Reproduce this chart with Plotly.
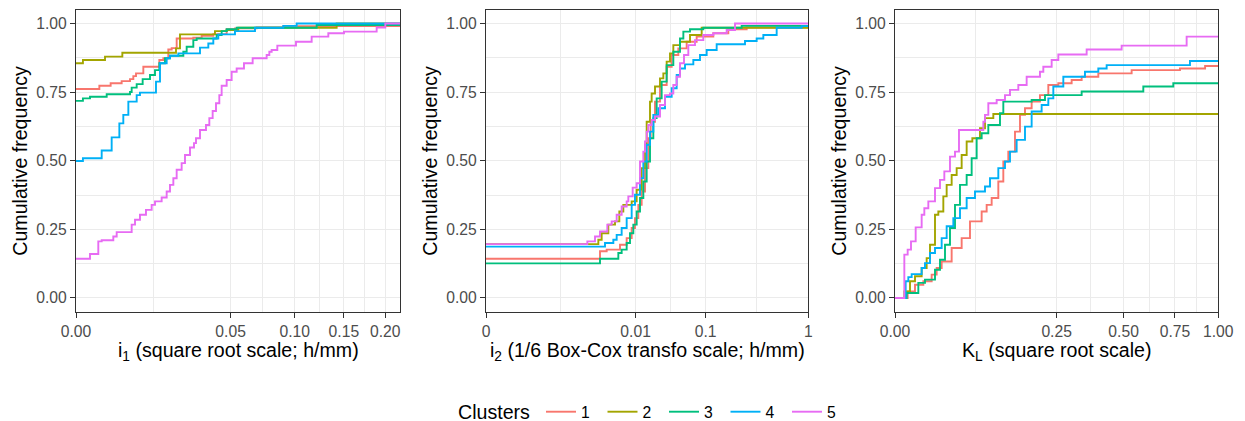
import numpy as np
import plotly.graph_objects as go

# ---------------- data ----------------
clusters = ["1", "2", "3", "4", "5"]
colors = ["#F8766D", "#A3A500", "#00BF7D", "#00B0F6", "#E76BF3"]

# Panel 1: i1 (h/mm), ECDF step points (x, cumulative frequency)
p1_x_1 = [0, .00114, .00251, .00436, .0061, .00687, .00753, .00948, .01452, .01595, .01782, .01914, .02119, .02878, .03302, .03943, .04746, .05285, .06824, .08987]
p1_y_1 = [.761, .773, .782, .79, .797, .808, .818, .842, .867, .873, .905, .91, .945, .948, .955, .961, .979, .982, .985, .99]
p1_x_2 = [0, .0001, .00176, .00449, .02091, .02261, .04039, .04746, .05509, .14206]
p1_y_2 = [.855, .867, .879, .893, .909, .96, .972, .976, .984, 1.0]
p1_x_3 = [0, .0001, .00041, .00197, .0061, .00648, .0077, .00929, .01145, .01305, .01452, .01656, .01847, .02409, .02561, .02878, .03044, .04137, .04436, .04746, .05397, .1211]
p1_y_3 = [.718, .727, .733, .742, .75, .766, .779, .797, .812, .83, .855, .873, .882, .897, .915, .939, .945, .958, .972, .979, .984, .994]
p1_x_4 = [0, .0001, .00138, .00266, .00393, .00468, .00573, .0077, .00856, .01338, .01475, .01719, .01847, .0219, .03215, .03661, .03943, .04235, .05285, .06699, .08987, .1018]
p1_y_4 = [.499, .509, .537, .585, .636, .667, .715, .739, .748, .788, .855, .873, .882, .891, .912, .927, .945, .96, .972, .984, .991, 1.0]
p1_x_5 = [0, .00041, .00104, .00138, .00291, .00346, .00648, .00728, .00856, .01024, .01197, .01305, .01534, .01719, .01847, .01981, .02119, .02334, .02484, .02717, .02911, .03011, .03215, .03533, .03717, .03905, .04098, .04295, .04436, .04746, .05066, .05397, .059, .06525, .076, .07815, .08004, .08475, .10119, .11612, .13312, .15016, .189, .20005]
p1_y_5 = [.143, .16, .206, .21, .224, .24, .267, .285, .303, .321, .339, .352, .366, .388, .412, .436, .467, .491, .521, .548, .564, .582, .612, .63, .655, .681, .709, .739, .773, .794, .824, .836, .855, .873, .885, .897, .903, .919, .933, .952, .964, .97, .985, 1.0]

# Panel 2: i2 (h/mm)
p2_x_1 = [0, .001958, .002754, .005165, .006912, .008523, .009762, .011148, .012693, .014415, .016325, .017786, .020783, .024759, .031024, .036549, .045161, .058245, .077981, .123148, .180687, .279864]
p2_y_1 = [.143, .17, .176, .194, .218, .255, .291, .339, .388, .473, .582, .642, .715, .776, .842, .885, .909, .933, .952, .964, .979, .985]
p2_x_2 = [0, .001793, .002136, .00299, .004111, .005012, .005985, .008523, .010436, .012693, .014415, .015346, .017358, .018442, .020783, .024759, .027745, .031024, .034621, .038559, .04756, .064303, .089767]
p2_y_2 = [.196, .212, .236, .267, .279, .315, .339, .352, .394, .473, .558, .642, .715, .745, .77, .80, .818, .861, .891, .921, .933, .958, .984]
p2_x_3 = [0, .001958, .004791, .005562, .006912, .007955, .009125, .010436, .011899, .013531, .015346, .017358, .019585, .022044, .026216, .031024, .038559, .04756, .0527, .064303, .094016, .249173]
p2_y_3 = [.126, .143, .164, .176, .2, .236, .267, .315, .364, .424, .497, .582, .655, .727, .788, .848, .897, .945, .97, .979, .984, .991]
p2_x_4 = [0, .002533, .003803, .004441, .005562, .006912, .008523, .009762, .011899, .013531, .015346, .017358, .019585, .023367, .029347, .036549, .042865, .04756, .055403, .070866, .08569, .103004, .134381, .269299, .350774, .405923, .538019, .882666]
p2_y_4 = [.187, .2, .212, .23, .255, .291, .339, .376, .436, .497, .558, .606, .667, .691, .733, .764, .812, .836, .851, .867, .885, .903, .924, .936, .945, .958, .984, .99]
p2_x_5 = [0, .000966, .001496, .001958, .002846, .003514, .004441, .005562, .006912, .007418, .00888, .010436, .011899, .013531, .014415, .015346, .016325, .018442, .020783, .024759, .029347, .034621, .038559, .042865, .04756, .053753, .061211, .074355, .094016, .123148, .173365, .212627]
p2_y_5 = [.196, .206, .224, .242, .267, .279, .303, .333, .352, .37, .402, .418, .497, .533, .57, .606, .63, .648, .661, .703, .739, .745, .776, .806, .855, .885, .921, .939, .958, .964, .976, 1.0]

# Panel 3: K_L
p3_x_1 = [0, .001535, .003826, .007679, .01286, .016607, .020832, .030716, .042514, .053805, .071845, .080378, .089383, .102138, .112259, .122864, .137737, .149459, .161652, .178658, .201107, .224894, .255177, .298542, .333298, .395477, .535765, .776937, .92]
p3_y_1 = [0, .024, .048, .061, .085, .109, .133, .182, .218, .279, .315, .339, .364, .424, .497, .533, .606, .667, .691, .715, .739, .776, .782, .794, .806, .818, .83, .836, .845]
p3_x_2 = [0, .000833, .002152, .003826, .006802, .009592, .011718, .015305, .017962, .022345, .025534, .030716, .036374, .042514, .049129, .057207, .069111, .077479, .092489]
p3_y_2 = [0, .024, .061, .079, .109, .145, .194, .303, .315, .37, .412, .448, .473, .521, .57, .582, .618, .655, .67]
p3_x_3 = [0, .001302, .005208, .008609, .015305, .019371, .023914, .028935, .034436, .040413, .049129, .056221, .063797, .071845, .083325, .105456, .112259, .178658, .215222, .333298, .589885, .741011]
p3_y_3 = [0, .018, .055, .067, .103, .139, .194, .255, .339, .412, .448, .509, .582, .6, .63, .673, .715, .721, .739, .752, .77, .782]
p3_x_4 = [0, .001088, .001701, .002657, .006802, .008609, .011718, .015305, .020832, .025534, .032548, .040413, .049129, .061217, .077479, .086324, .102138, .115743, .126501, .141594, .161652, .178658, .205753, .224894, .239806, .271045, .345309, .395477, .428554, .832419]
p3_y_4 = [0, .061, .076, .087, .109, .127, .164, .182, .218, .261, .291, .327, .364, .388, .406, .436, .473, .497, .533, .576, .624, .679, .703, .727, .77, .806, .824, .836, .848, .863]
p3_x_5 = [0, .000833, .001535, .002449, .004086, .006802, .00823, .010628, .015305, .019371, .023281, .028935, .034436, .03918, .074638, .077479, .083325, .098866, .115743, .126501, .145497, .165828, .201107, .210461, .234779, .255177, .351388, .491443, .813712]
p3_y_5 = [0, .158, .176, .206, .257, .303, .327, .352, .4, .43, .461, .515, .533, .612, .642, .667, .709, .721, .739, .758, .776, .806, .824, .842, .867, .887, .905, .919, .952]

y_ticks = [0, 0.25, 0.5, 0.75, 1.0]
y_tick_labels = ["0.00", "0.25", "0.50", "0.75", "1.00"]
p1_ticks = [0, 0.05, 0.10, 0.15, 0.20]
p1_tick_labels = ["0.00", "0.05", "0.10", "0.15", "0.20"]
p2_ticks = [0, 0.01, 0.1, 1]
p2_tick_labels = ["0", "0.01", "0.1", "1"]
p3_ticks = [0, 0.25, 0.5, 0.75, 1.0]
p3_tick_labels = ["0.00", "0.25", "0.50", "0.75", "1.00"]
p1_xmax = 0.2195
p2_xmax = 1.0
p3_xmax = 1.0

y_title = "Cumulative frequency"
x_titles = ["i<sub>1</sub> (square root scale; h/mm)",
            "i<sub>2</sub> (1/6 Box-Cox transfo scale; h/mm)",
            "K<sub>L</sub> (square root scale)"]
legend_title = "Clusters"

# ---------------- scales ----------------
def sqrt_t(v):
    return np.sqrt(np.asarray(v, dtype=float))

def boxcox_t(v, lam=1/6):
    return (np.asarray(v, dtype=float) ** lam - 1) / lam

def midpoints(t):
    t = list(t)
    return [(a + b) / 2 for a, b in zip(t[:-1], t[1:])]

panels = [
    dict(xs=[p1_x_1, p1_x_2, p1_x_3, p1_x_4, p1_x_5], ys=[p1_y_1, p1_y_2, p1_y_3, p1_y_4, p1_y_5],
         t=sqrt_t, xmax=p1_xmax, ticks=p1_ticks, labels=p1_tick_labels),
    dict(xs=[p2_x_1, p2_x_2, p2_x_3, p2_x_4, p2_x_5], ys=[p2_y_1, p2_y_2, p2_y_3, p2_y_4, p2_y_5],
         t=boxcox_t, xmax=p2_xmax, ticks=p2_ticks, labels=p2_tick_labels),
    dict(xs=[p3_x_1, p3_x_2, p3_x_3, p3_x_4, p3_x_5], ys=[p3_y_1, p3_y_2, p3_y_3, p3_y_4, p3_y_5],
         t=sqrt_t, xmax=p3_xmax, ticks=p3_ticks, labels=p3_tick_labels),
]

# page body has an 8px margin: figure coordinates = screen coordinates - 8
W, H = 1245, 421
OFF = 8
scr_x_doms = [(76, 400), (486, 808.3), (895, 1218.3)]
scr_y_top, scr_y_bot = 9.7, 311.7
y_dom = ((H - (scr_y_bot - OFF)) / H, (H - (scr_y_top - OFF)) / H)

def px(xs):   # screen x -> paper x
    return (xs - OFF) / W

def py(ys):   # screen y -> paper y
    return (H - (ys - OFF)) / H

FONT = "Liberation Sans, Arial, sans-serif"
fig = go.Figure()
annotations = []

for pi, p in enumerate(panels):
    ax = "" if pi == 0 else str(pi + 1)
    t = p["t"]
    xmin_t = float(t(0.0))
    xmax_t = float(t(p["xmax"]))
    for ci in range(5):
        xv = list(t(p["xs"][ci])) + [xmax_t]
        yv = list(p["ys"][ci]) + [p["ys"][ci][-1]]
        fig.add_trace(go.Scatter(
            x=xv, y=yv, mode="lines", line=dict(color=colors[ci], width=1.9, shape="hv"),
            name=clusters[ci], legendgroup=clusters[ci], showlegend=(pi == 0),
            xaxis="x" + ax, yaxis="y" + ax, hoverinfo="skip"))
    tv = list(t(p["ticks"]))
    sx0, sx1 = scr_x_doms[pi]
    fig.layout["xaxis" + ax] = dict(
        domain=[px(sx0), px(sx1)], anchor="y" + ax, range=[xmin_t, xmax_t],
        tickmode="array", tickvals=tv, ticktext=p["labels"],
        ticks="outside", ticklen=5, tickwidth=1.3, tickcolor="#333333",
        tickfont=dict(family=FONT, size=15.7, color="#4D4D4D"),
        showgrid=True, gridcolor="#EBEBEB", gridwidth=1.4,
        minor=dict(tickmode="array", tickvals=midpoints(tv), showgrid=True, gridcolor="#EBEBEB", gridwidth=0.7, ticks=""),
        showline=True, linecolor="#333333", linewidth=1.3, mirror=True, zeroline=False,
        automargin=False)
    fig.layout["yaxis" + ax] = dict(
        domain=list(y_dom), anchor="x" + ax, range=[-0.05, 1.05],
        tickmode="array", tickvals=y_ticks, ticktext=y_tick_labels,
        ticks="outside", ticklen=5, tickwidth=1.3, tickcolor="#333333",
        tickfont=dict(family=FONT, size=15.7, color="#4D4D4D"),
        showgrid=True, gridcolor="#EBEBEB", gridwidth=1.4,
        minor=dict(tickmode="array", tickvals=midpoints(y_ticks), showgrid=True, gridcolor="#EBEBEB", gridwidth=0.7, ticks=""),
        showline=True, linecolor="#333333", linewidth=1.3, mirror=True, zeroline=False,
        automargin=False)
    # axis titles
    annotations.append(dict(text=x_titles[pi], xref="paper", yref="paper",
                            x=px((sx0 + sx1) / 2), y=py(351), xanchor="center", yanchor="middle",
                            showarrow=False, font=dict(family=FONT, size=19.6, color="#000000")))
    annotations.append(dict(text=y_title, xref="paper", yref="paper", textangle=-90,
                            x=px(sx0 - 56), y=py((scr_y_top + scr_y_bot) / 2), xanchor="center", yanchor="middle",
                            showarrow=False, font=dict(family=FONT, size=19.6, color="#000000")))

# legend title
annotations.append(dict(text=legend_title, xref="paper", yref="paper", x=px(456), y=py(412),
                        xanchor="left", yanchor="middle", showarrow=False,
                        font=dict(family=FONT, size=19.6, color="#000000")))

fig.update_layout(
    width=W, height=H, margin=dict(l=0, r=0, t=0, b=0, autoexpand=False),
    paper_bgcolor="white", plot_bgcolor="white",
    showlegend=True, annotations=annotations,
    legend=dict(orientation="h", x=px(541), xanchor="left", y=py(412), yanchor="middle",
                font=dict(family=FONT, size=15.7, color="#000000"),
                itemwidth=30, entrywidth=16.5, entrywidthmode="pixels",
                bgcolor="rgba(0,0,0,0)"),
)

fig.write_html("out.html")
